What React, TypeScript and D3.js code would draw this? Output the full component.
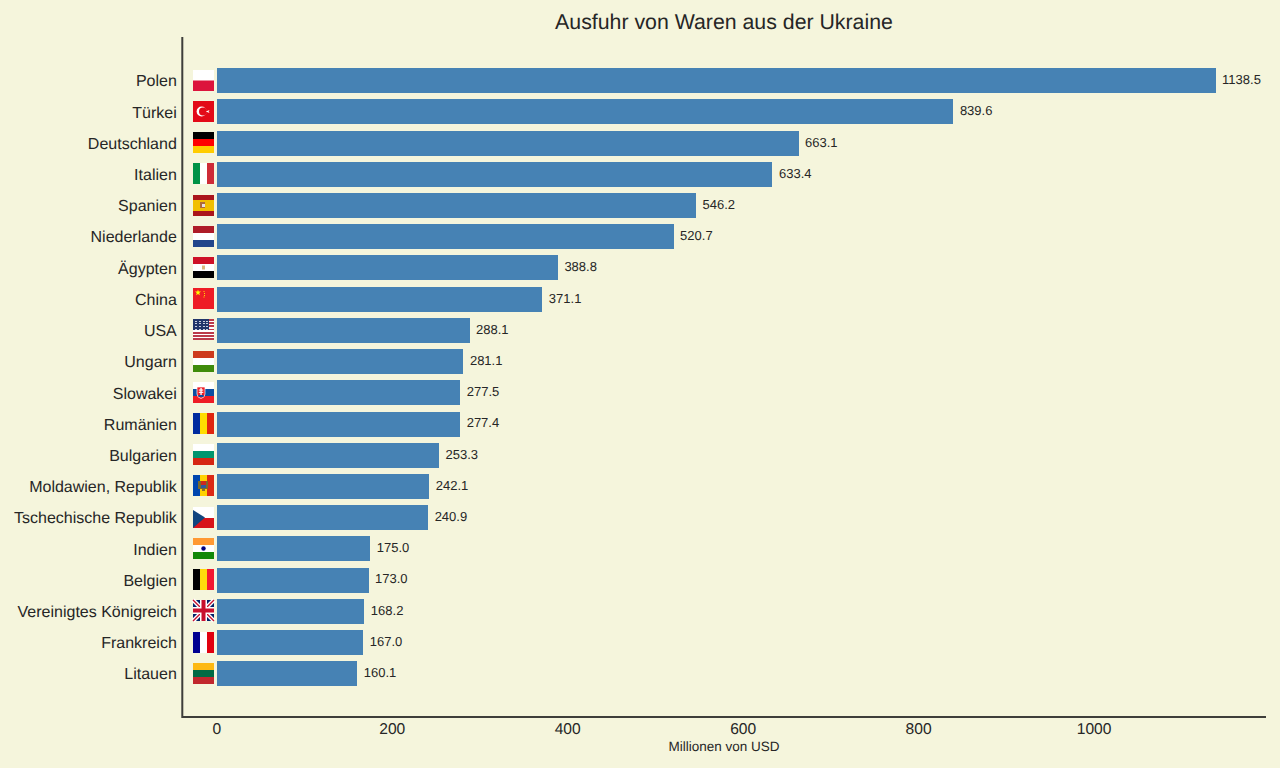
import React from 'react'
import { scaleBand, scaleLinear } from 'd3'

const COUNTRIES = [
  'Polen', 'Türkei', 'Deutschland', 'Italien', 'Spanien', 'Niederlande', 'Ägypten', 'China', 'USA', 'Ungarn',
  'Slowakei', 'Rumänien', 'Bulgarien', 'Moldawien, Republik', 'Tschechische Republik', 'Indien', 'Belgien',
  'Vereinigtes Königreich', 'Frankreich', 'Litauen',
]
const VALUES = [
  1138.5, 839.6, 663.1, 633.4, 546.2, 520.7, 388.8, 371.1, 288.1, 281.1,
  277.5, 277.4, 253.3, 242.1, 240.9, 175.0, 173.0, 168.2, 167.0, 160.1,
]
const FLAG_CODES = [
  'pl', 'tr', 'de', 'it', 'es', 'nl', 'eg', 'cn', 'us', 'hu',
  'sk', 'ro', 'bg', 'md', 'cz', 'in', 'be', 'gb', 'fr', 'lt',
]
const X_TICKS = [0, 200, 400, 600, 800, 1000]

const WIDTH = 1280
const HEIGHT = 768
const BG = '#F5F5DC'
const INK = '#262626'
const FONT = '"Liberation Sans", Arial, sans-serif'
const FLAG = 21

// horizontal stripes, v = vertical
function Stripes({ colors, v = false }: { colors: string[]; v?: boolean }) {
  const s = FLAG / colors.length
  return (
    <g shapeRendering="crispEdges">
      {colors.map((c, i) =>
        v ? (
          <rect key={i} x={i * s} y={0} width={s} height={FLAG} fill={c} />
        ) : (
          <rect key={i} x={0} y={i * s} width={FLAG} height={s} fill={c} />
        ),
      )}
    </g>
  )
}

function Flag({ code }: { code: string }) {
  switch (code) {
    case 'pl':
      return (
        <g>
          <Stripes colors={['#FFFFFF', '#DC143C']} />
          <rect x={0} y={10} width={FLAG} height={1} fill="#EE8A9D" />
        </g>
      )
    case 'tr':
      return (
        <g>
          <rect width={FLAG} height={FLAG} fill="#E30A17" />
          <circle cx={8.6} cy={10.5} r={5} fill="#fff" />
          <circle cx={10} cy={10.5} r={4} fill="#E30A17" />
          <path d="M12.8 10.5 L16.6 9 L15.6 10.5 L16.6 12 Z" fill="#fff" />
        </g>
      )
    case 'de':
      return <Stripes colors={['#000000', '#FF0000', '#FFCC00']} />
    case 'it':
      return <Stripes v colors={['#009246', '#FFFFFF', '#CE2B37']} />
    case 'es':
      return (
        <g>
          <Stripes colors={['#AA151B', '#F1BF00', '#F1BF00', '#AA151B']} />
          <rect x={7} y={7} width={5} height={6} fill="#AD6A3A" />
          <rect x={9} y={9} width={3} height={3} fill="#E8E0E0" />
        </g>
      )
    case 'nl':
      return <Stripes colors={['#AE1C28', '#FFFFFF', '#21468B']} />
    case 'eg':
      return (
        <g>
          <Stripes colors={['#CE1126', '#FFFFFF', '#000000']} />
          <rect x={9} y={8.5} width={3} height={4} fill="#D9B77E" />
        </g>
      )
    case 'cn':
      return (
        <g>
          <rect width={FLAG} height={FLAG} fill="#EE1C25" />
          <path d="M5 1.6 L5.7 3.6 L8 3.6 L6.2 5 L6.9 7.2 L5 5.9 L3.1 7.2 L3.8 5 L2 3.6 L4.3 3.6 Z" fill="#FFFF00" />
          <rect x={10.5} y={3} width={1} height={1} fill="#FFDD00" />
          <rect x={11} y={5} width={1} height={1} fill="#FFDD00" />
          <rect x={11} y={7} width={1} height={1} fill="#FFDD00" />
          <rect x={10.5} y={8.5} width={1} height={1} fill="#FFDD00" />
        </g>
      )
    case 'us':
      return (
        <g shapeRendering="crispEdges">
          <rect width={FLAG} height={FLAG} fill="#fff" />
          {[0, 2, 4, 6, 8, 10, 12].map((i) => (
            <rect key={i} x={0} y={(i * FLAG) / 13} width={FLAG} height={FLAG / 13} fill="#BC3B4A" />
          ))}
          <rect width={16} height={11} fill="#22356A" />
          {[2, 6, 10, 13].map((sx) =>
            [2, 4, 7, 10].map((sy) => <rect key={`${sx}-${sy}`} x={sx} y={sy} width={2} height={1} fill="#C8CEDC" />),
          )}
        </g>
      )
    case 'hu':
      return <Stripes colors={['#CD3A1C', '#FFFFFF', '#3F8B0A']} />
    case 'sk':
      return (
        <g>
          <Stripes colors={['#FFFFFF', '#0B4EA2', '#EE1C25']} />
          <path d="M4 5 H12 V12 Q12 15.5 8 16.5 Q4 15.5 4 12 Z" fill="#EE1C25" stroke="#fff" strokeWidth={0.7} />
          <rect x={7.4} y={6} width={1.3} height={7} fill="#fff" />
          <rect x={5.8} y={7.5} width={4.5} height={1.1} fill="#fff" />
          <rect x={5.8} y={9.8} width={4.5} height={1.1} fill="#fff" />
          <rect x={5.5} y={13} width={5} height={2} fill="#0B4EA2" />
        </g>
      )
    case 'ro':
      return <Stripes v colors={['#002B9F', '#FFDD00', '#E0260F']} />
    case 'bg':
      return <Stripes colors={['#FFFFFF', '#00966E', '#D62612']} />
    case 'md':
      return (
        <g>
          <Stripes v colors={['#0046AE', '#FFD200', '#DC2A14']} />
          <rect x={5} y={6} width={10} height={8} fill="#7A6A2E" />
          <rect x={8} y={6} width={5} height={4} fill="#CC2A1E" />
          <rect x={8} y={10} width={5} height={3} fill="#2E5AA0" />
          <rect x={9} y={14} width={3} height={2} fill="#8A6A2E" />
        </g>
      )
    case 'cz':
      return (
        <g>
          <Stripes colors={['#FFFFFF', '#D7141A']} />
          <path d="M0 3 L12 10.5 L0 21 Z" fill="#11457E" />
        </g>
      )
    case 'in':
      return (
        <g>
          <Stripes colors={['#FF9933', '#FFFFFF', '#138808']} />
          <circle cx={10.5} cy={10.5} r={2.2} fill="#000080" />
        </g>
      )
    case 'be':
      return <Stripes v colors={['#000000', '#FFD90C', '#F31830']} />
    case 'gb':
      return (
        <g>
          <rect width={FLAG} height={FLAG} fill="#012169" />
          <path d="M0 0 L21 21 M21 0 L0 21" stroke="#fff" strokeWidth={4} />
          <path d="M0 0 L21 21 M21 0 L0 21" stroke="#C8102E" strokeWidth={1.4} />
          <rect x={7} y={0} width={7} height={21} fill="#fff" />
          <rect x={0} y={7} width={21} height={7} fill="#fff" />
          <rect x={8.5} y={0} width={4} height={21} fill="#C8102E" />
          <rect x={0} y={8.5} width={21} height={4} fill="#C8102E" />
        </g>
      )
    case 'fr':
      return <Stripes v colors={['#000091', '#FFFFFF', '#E1000F']} />
    case 'lt':
      return <Stripes colors={['#FDB913', '#006A44', '#C1272D']} />
    default:
      return null
  }
}

export default function App(): JSX.Element {
  const x = scaleLinear().domain([0, 1138.5]).range([216.8, 1215.6])
  const y = scaleBand<string>()
    .domain(COUNTRIES)
    .range([65.08, 689.32])
    .paddingInner(0.2)
    .paddingOuter(0.1)

  const axisLeft = 182.3
  const axisRight = 1266
  const axisTop = 37
  const axisBottom = 717

  return (
    <svg
      width={WIDTH}
      height={HEIGHT}
      style={{ position: 'absolute', left: 0, top: 0, background: BG }}
      fontFamily={FONT}
      textRendering="geometricPrecision"
    >
      <rect width={WIDTH} height={HEIGHT} fill={BG} />
      <text x={724} y={29} textAnchor="middle" fontSize={21.3} fill={INK}>
        Ausfuhr von Waren aus der Ukraine
      </text>

      {COUNTRIES.map((c, i) => {
        const by = y(c) as number
        const mid = by + y.bandwidth() / 2
        return (
          <g key={c}>
            <rect
              x={x(0)}
              y={by}
              width={x(VALUES[i]) - x(0)}
              height={y.bandwidth()}
              fill="#4682B4"
              shapeRendering="crispEdges"
            />
            <text x={x(VALUES[i]) + 6.5} y={mid + 3.4} fontSize={13} fill={INK}>
              {VALUES[i].toFixed(1)}
            </text>
            <text x={176.8} y={mid + 5.7} textAnchor="end" fontSize={16} fill={INK}>
              {c}
            </text>
            <g transform={`translate(193,${Math.floor(mid - 10.5)})`}>
              <Flag code={FLAG_CODES[i]} />
            </g>
          </g>
        )
      })}

      <path
        d={`M${axisLeft} ${axisTop} V${axisBottom} H${axisRight}`}
        fill="none"
        stroke="#3E3E3A"
        strokeWidth={2}
      />
      {X_TICKS.map((t) => (
        <text key={t} x={x(t)} y={733.6} textAnchor="middle" fontSize={15.6} fill={INK}>
          {t}
        </text>
      ))}
      <text x={724} y={751} textAnchor="middle" fontSize={13.5} fill={INK}>
        Millionen von USD
      </text>
    </svg>
  )
}
